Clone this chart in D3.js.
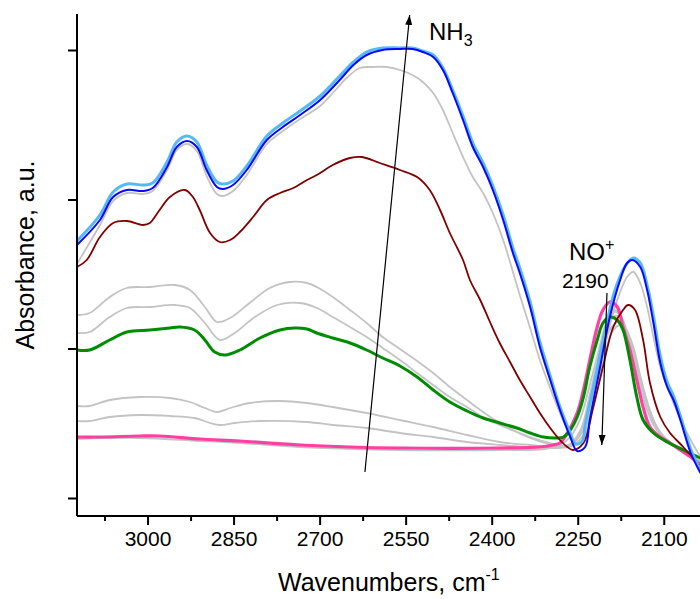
<!DOCTYPE html>
<html>
<head>
<meta charset="utf-8">
<script src="https://cdn.jsdelivr.net/npm/d3@7"></script>
<style>
body { margin: 0; background: #fff; }
text { font-family: "Liberation Sans", Arial, sans-serif; fill: #000; }
</style>
</head>
<body>
<div id="chart"></div>
<script>
var width = 700;
var height = 599;

// axis ticks
var xMajorTicks = [3000, 2850, 2700, 2550, 2400, 2250, 2100];
var xMinorTicks = [3075, 2925, 2775, 2625, 2475, 2325, 2175];
var yTicks = [0.036, 0.335, 0.633, 0.932];

// spectra, [wavenumber, absorbance]
var blueSpectrum = [
  [3123,0.542],[3083,0.592],[3060,0.638],[3036,0.652],[3008,0.650],[2991,0.656],[2966,0.698],
  [2949,0.738],[2931,0.750],[2914,0.738],[2897,0.692],[2879,0.658],[2869,0.654],[2851,0.662],
  [2827,0.692],[2792,0.752],[2764,0.778],[2734,0.802],[2699,0.832],[2665,0.872],[2641,0.902],
  [2618,0.922],[2590,0.932],[2560,0.934],[2538,0.934],[2520,0.928],[2502,0.918],[2485,0.892],
  [2468,0.846],[2450,0.792],[2433,0.738],[2415,0.698],[2398,0.652],[2380,0.592],[2363,0.526],
  [2351,0.486],[2333,0.418],[2316,0.338],[2298,0.272],[2281,0.212],[2263,0.158],[2251,0.130],
  [2237,0.138],[2229,0.192],[2211,0.298],[2194,0.398],[2176,0.472],[2164,0.506],[2155,0.512],
  [2141,0.498],[2129,0.452],[2118,0.386],[2106,0.306],[2094,0.258],[2083,0.232],[2071,0.192],
  [2053,0.126],[2036,0.086]
];
var lightBlueSpectrum = [
  [3123,0.550],[3083,0.602],[3060,0.648],[3036,0.664],[3008,0.662],[2991,0.666],[2966,0.708],
  [2949,0.748],[2931,0.760],[2914,0.748],[2897,0.702],[2879,0.668],[2869,0.664],[2851,0.670],
  [2827,0.700],[2792,0.760],[2764,0.786],[2734,0.810],[2699,0.840],[2665,0.880],[2641,0.908],
  [2618,0.928],[2590,0.936],[2560,0.936],[2538,0.936],[2520,0.930],[2502,0.922],[2485,0.896],
  [2468,0.852],[2450,0.800],[2433,0.746],[2415,0.706],[2398,0.660],[2380,0.602],[2363,0.536],
  [2351,0.496],[2333,0.428],[2316,0.348],[2298,0.280],[2281,0.218],[2263,0.166],[2254,0.144],
  [2242,0.150],[2237,0.182],[2220,0.272],[2202,0.372],[2185,0.452],[2167,0.500],[2153,0.516],
  [2141,0.506],[2129,0.462],[2118,0.400],[2106,0.320],[2094,0.268],[2083,0.240],[2071,0.200],
  [2053,0.134],[2036,0.092]
];
var grayTop = [
  [3123,0.504],[3083,0.582],[3060,0.630],[3036,0.646],[3008,0.644],[2991,0.650],[2966,0.692],
  [2949,0.732],[2931,0.744],[2914,0.730],[2897,0.680],[2879,0.644],[2869,0.640],[2851,0.650],
  [2827,0.682],[2792,0.744],[2764,0.770],[2734,0.794],[2699,0.820],[2677,0.846],[2653,0.876],
  [2630,0.896],[2607,0.898],[2583,0.898],[2560,0.892],[2538,0.882],[2520,0.868],[2502,0.846],
  [2485,0.812],[2468,0.766],[2450,0.718],[2433,0.678],[2415,0.646],[2398,0.606],[2380,0.552],
  [2368,0.508],[2351,0.442],[2333,0.376],[2316,0.312],[2298,0.256],[2281,0.206],[2263,0.162],
  [2251,0.144],[2242,0.148],[2229,0.202],[2211,0.292],[2194,0.382],[2176,0.448],[2164,0.478],
  [2153,0.488],[2141,0.466],[2129,0.418],[2118,0.358],[2106,0.298],[2094,0.258],[2083,0.226],
  [2071,0.192],[2053,0.152],[2036,0.118]
];
var darkRedSpectrum = [
  [3123,0.498],[3106,0.512],[3083,0.558],[3060,0.586],[3036,0.590],[3008,0.582],[2996,0.586],
  [2979,0.612],[2961,0.638],[2935,0.652],[2921,0.638],[2909,0.612],[2891,0.566],[2874,0.548],
  [2856,0.552],[2839,0.568],[2816,0.598],[2792,0.632],[2769,0.646],[2746,0.656],[2722,0.672],
  [2705,0.682],[2677,0.702],[2647,0.716],[2626,0.718],[2595,0.706],[2560,0.692],[2530,0.678],
  [2508,0.652],[2490,0.612],[2473,0.566],[2450,0.512],[2438,0.472],[2420,0.432],[2403,0.388],
  [2386,0.346],[2368,0.308],[2351,0.272],[2333,0.238],[2316,0.206],[2298,0.176],[2281,0.152],
  [2268,0.138],[2258,0.132],[2240,0.146],[2224,0.212],[2206,0.298],[2188,0.378],[2171,0.412],
  [2162,0.422],[2150,0.412],[2136,0.352],[2124,0.266],[2106,0.198],[2089,0.166],[2066,0.138],
  [2036,0.098]
];
var grayA = [
  [3123,0.402],[3101,0.406],[3066,0.438],[3036,0.456],[2996,0.458],[2952,0.462],[2926,0.452],
  [2900,0.418],[2879,0.388],[2856,0.396],[2822,0.426],[2787,0.456],[2752,0.468],[2722,0.466],
  [2705,0.458],[2677,0.438],[2647,0.412],[2618,0.386],[2590,0.358],[2560,0.334],[2530,0.310],
  [2502,0.286],[2473,0.258],[2443,0.232],[2415,0.208],[2386,0.186],[2356,0.168],[2333,0.156],
  [2307,0.146],[2281,0.140],[2263,0.144],[2245,0.172],[2229,0.242],[2211,0.332],[2197,0.388],
  [2187,0.408],[2176,0.402],[2162,0.362],[2147,0.302],[2133,0.242],[2118,0.192],[2103,0.158],
  [2085,0.142],[2063,0.128],[2036,0.108]
];
var grayB = [
  [3123,0.366],[3101,0.368],[3066,0.398],[3036,0.416],[2996,0.418],[2952,0.422],[2926,0.416],
  [2900,0.386],[2874,0.352],[2848,0.366],[2813,0.398],[2774,0.422],[2734,0.426],[2705,0.416],
  [2677,0.398],[2647,0.378],[2618,0.358],[2590,0.336],[2560,0.312],[2530,0.286],[2502,0.262],
  [2473,0.238],[2443,0.218],[2415,0.198],[2386,0.182],[2356,0.168],[2333,0.158],[2298,0.146],
  [2272,0.140],[2254,0.150],[2237,0.192],[2220,0.266],[2202,0.352],[2190,0.396],[2180,0.400],
  [2167,0.376],[2153,0.328],[2140,0.266],[2124,0.208],[2106,0.168],[2089,0.148],[2063,0.132],
  [2036,0.112]
];
var greenSpectrum = [
  [3123,0.332],[3101,0.332],[3066,0.352],[3036,0.368],[2996,0.372],[2961,0.376],[2944,0.378],
  [2918,0.372],[2900,0.352],[2883,0.328],[2865,0.322],[2839,0.332],[2804,0.356],[2769,0.372],
  [2743,0.376],[2722,0.374],[2705,0.366],[2677,0.356],[2647,0.346],[2618,0.332],[2590,0.316],
  [2560,0.300],[2530,0.278],[2502,0.252],[2473,0.228],[2443,0.210],[2415,0.196],[2386,0.186],
  [2356,0.176],[2333,0.166],[2310,0.158],[2286,0.156],[2275,0.158],[2263,0.172],[2251,0.198],
  [2240,0.238],[2229,0.298],[2216,0.352],[2206,0.386],[2194,0.398],[2181,0.392],[2171,0.372],
  [2159,0.312],[2147,0.238],[2136,0.192],[2118,0.166],[2094,0.148],[2066,0.132],[2036,0.116]
];
var grayC = [
  [3123,0.220],[3101,0.220],[3066,0.232],[3013,0.238],[2961,0.236],[2926,0.228],[2900,0.216],
  [2879,0.208],[2856,0.216],[2822,0.226],[2769,0.230],[2722,0.226],[2677,0.218],[2618,0.206],
  [2560,0.192],[2502,0.178],[2443,0.162],[2386,0.148],[2333,0.142],[2286,0.138],[2263,0.142],
  [2242,0.168],[2226,0.232],[2209,0.322],[2194,0.372],[2181,0.388],[2171,0.382],[2159,0.352],
  [2145,0.292],[2131,0.232],[2115,0.182],[2097,0.152],[2077,0.138],[2053,0.124],[2036,0.106]
];
var grayD = [
  [3123,0.190],[3101,0.190],[3066,0.198],[3013,0.202],[2961,0.200],[2918,0.196],[2891,0.186],
  [2874,0.182],[2848,0.186],[2804,0.190],[2722,0.188],[2677,0.182],[2618,0.176],[2560,0.166],
  [2502,0.158],[2443,0.148],[2386,0.142],[2333,0.138],[2286,0.136],[2260,0.140],[2238,0.166],
  [2222,0.228],[2204,0.316],[2190,0.368],[2176,0.382],[2166,0.374],[2153,0.338],[2140,0.276],
  [2126,0.218],[2110,0.172],[2092,0.148],[2071,0.134],[2050,0.122],[2036,0.108]
];
var grayE = [
  [3123,0.154],[3013,0.156],[2909,0.150],[2839,0.146],[2734,0.138],[2560,0.132],[2386,0.132],
  [2307,0.134],[2281,0.142],[2263,0.158],[2245,0.196],[2229,0.262],[2211,0.342],[2199,0.392],
  [2188,0.412],[2178,0.406],[2166,0.372],[2152,0.312],[2138,0.246],[2122,0.192],[2104,0.160],
  [2085,0.144],[2061,0.128],[2036,0.108]
];
var pinkSpectrum = [
  [3123,0.158],[3083,0.158],[3013,0.160],[2979,0.160],[2909,0.154],[2839,0.150],[2734,0.142],
  [2647,0.138],[2560,0.136],[2386,0.136],[2316,0.138],[2293,0.142],[2281,0.146],[2268,0.166],
  [2251,0.206],[2240,0.252],[2229,0.312],[2216,0.378],[2206,0.412],[2194,0.428],[2181,0.418],
  [2171,0.378],[2159,0.332],[2147,0.272],[2136,0.218],[2124,0.178],[2106,0.158],[2089,0.146],
  [2071,0.132],[2053,0.118],[2036,0.102]
];

// drawing order: grey first, coloured on top
var series = [
  {data: grayA, color: "#c3c3c3", w: 1.8},
  {data: grayB, color: "#c3c3c3", w: 1.8},
  {data: grayC, color: "#c3c3c3", w: 1.8},
  {data: grayD, color: "#c3c3c3", w: 1.8},
  {data: grayE, color: "#c3c3c3", w: 1.8},
  {data: grayTop, color: "#c3c3c3", w: 1.8},
  {data: pinkSpectrum, color: "#ff3fa4", w: 3.2},
  {data: greenSpectrum, color: "#008c00", w: 3},
  {data: darkRedSpectrum, color: "#800000", w: 1.8},
  {data: lightBlueSpectrum, color: "#55b9f7", w: 3},
  {data: blueSpectrum, color: "#0808ff", w: 2}
];

var x = d3.scaleLinear().domain([3123, 2036.8]).range([77, 700]);
var y = d3.scaleLinear().domain([0, 1.004]).range([516, 14]);

var svg = d3.select("#chart").append("svg")
    .attr("width", width)
    .attr("height", height);

svg.append("defs").append("clipPath")
    .attr("id", "plot-clip")
  .append("rect")
    .attr("x", 77).attr("y", 14)
    .attr("width", 623).attr("height", 502);

svg.select("defs").append("marker")
    .attr("id", "arrow")
    .attr("viewBox", "0 -4 10 8")
    .attr("refX", 10)
    .attr("refY", 0)
    .attr("markerUnits", "userSpaceOnUse")
    .attr("markerWidth", 10)
    .attr("markerHeight", 8)
    .attr("orient", "auto")
  .append("path")
    .attr("fill", "#000")
    .attr("d", "M0,-3.5L10,0L0,3.5Z");

var line = d3.line()
    .x(d => x(d[0]))
    .y(d => y(d[1]))
    .curve(d3.curveCatmullRom.alpha(0.5));

svg.append("g")
    .attr("clip-path", "url(#plot-clip)")
    .attr("fill", "none")
    .attr("stroke-linejoin", "round")
  .selectAll("path")
  .data(series)
  .join("path")
    .attr("stroke", d => d.color)
    .attr("stroke-width", d => d.w)
    .attr("d", d => line(d.data));

// axes
var xAxis = svg.append("g")
    .attr("transform", "translate(0,516)")
    .call(d3.axisBottom(x).tickValues(xMajorTicks).tickSize(9).tickPadding(6).tickFormat(d3.format("d")));
svg.append("g")
    .attr("transform", "translate(0,516)")
    .call(d3.axisBottom(x).tickValues(xMinorTicks).tickSize(5).tickFormat(""))
    .call(g => g.select(".domain").remove());
var yAxis = svg.append("g")
    .attr("transform", "translate(77,0)")
    .call(d3.axisLeft(y).tickValues(yTicks).tickSize(9).tickFormat(""));

svg.selectAll(".domain, .tick line")
    .attr("stroke", "#000")
    .attr("stroke-width", 2);
xAxis.select(".domain").attr("d", "M77,0H700");
yAxis.select(".domain").attr("d", "M0,516V14");
xAxis.selectAll(".tick text")
    .attr("font-size", 21)
    .attr("font-family", "Liberation Sans, Arial, sans-serif");

// axis titles
svg.append("text")
    .attr("transform", "translate(34,255) rotate(-90)")
    .attr("text-anchor", "middle")
    .attr("font-size", 25)
    .text("Absorbance, a.u.");

var xt = svg.append("text")
    .attr("x", 278)
    .attr("y", 591)
    .attr("font-size", 25);
xt.append("tspan").text("Wavenumbers, cm");
xt.append("tspan").attr("font-size", 16).attr("dy", -11).text("-1");

// annotations
svg.append("line")
    .attr("x1", x(2621)).attr("y1", y(0.088))
    .attr("x2", x(2543)).attr("y2", y(1.002))
    .attr("stroke", "#000")
    .attr("stroke-width", 1.2)
    .attr("marker-end", "url(#arrow)");

var nh3 = svg.append("text")
    .attr("x", 429).attr("y", 40)
    .attr("font-size", 24);
nh3.append("tspan").text("NH");
nh3.append("tspan").attr("font-size", 16).attr("dy", 6).text("3");

svg.append("line")
    .attr("x1", x(2199)).attr("y1", y(0.446))
    .attr("x2", x(2208)).attr("y2", y(0.142))
    .attr("stroke", "#000")
    .attr("stroke-width", 1.2)
    .attr("marker-end", "url(#arrow)");

var no = svg.append("text")
    .attr("x", 569).attr("y", 260)
    .attr("font-size", 24);
no.append("tspan").text("NO");
no.append("tspan").attr("font-size", 16).attr("dy", -10).text("+");

svg.append("text")
    .attr("x", 562).attr("y", 288)
    .attr("font-size", 21)
    .text("2190");
</script>
</body>
</html>
